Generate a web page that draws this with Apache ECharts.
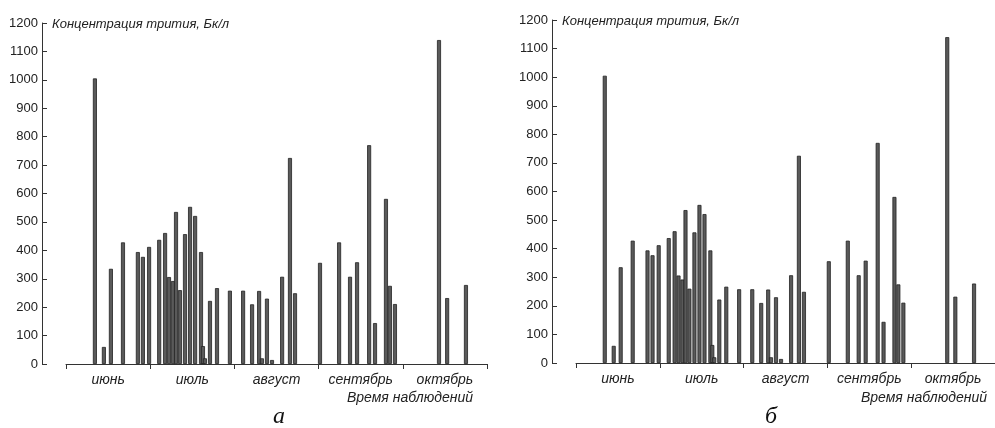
<!DOCTYPE html>
<html>
<head>
<meta charset="utf-8">
<script src="https://cdn.jsdelivr.net/npm/echarts@6/dist/echarts.min.js"></script>
<style>
  html, body { margin: 0; padding: 0; background: #fff; }
  #chart { width: 995px; height: 428px; }
</style>
</head>
<body>
<div id="chart"></div>
<script>
// дни наблюдений от 1 июня (по 30 дней на месяц) и концентрация трития, Бк/л
const obsDays = [10.3, 13.5, 16.0, 20.3, 25.6, 27.4, 29.6,
  33.2, 35.3, 36.7, 38.1, 39.2, 40.6, 42.4, 44.2, 46.0, 48.1, 48.8, 49.5, 51.3, 53.8, 58.4,
  63.1, 66.3, 68.8, 69.8, 71.6, 73.4, 77.0, 79.8, 81.6,
  90.5, 97.3, 101.2, 103.7, 108.0, 110.1, 114.0, 115.4, 117.2,
  132.9, 135.8, 142.5];
const tritium = [1005, 60, 335, 428, 394, 377, 412,
  437, 461, 306, 292, 535, 260, 457, 553, 521, 394, 63, 20, 222, 267, 258,
  258, 210, 257, 20, 230, 14, 307, 725, 249,
  356, 428, 307, 358, 770, 144, 581, 275, 211,
  1140, 232, 278];
const months = ['июнь', 'июль', 'август', 'сентябрь', 'октябрь'];
const yTicks = { min: 0, max: 1200, step: 100 };

const chart = echarts.init(document.getElementById('chart'));
const font = 'Liberation Sans, Arial, sans-serif';

// две панели: а и б
const panels = [
  { left: 66, top: 23, height: 341, width: 421, letter: 'а', letterX: 278, nameRight: 473 },
  { left: 576, top: 20, height: 343, width: 425, letter: 'б', letterX: 770, nameRight: 987 }
];

const pairs = obsDays.map((d, i) => [d, tritium[i]]);

let grid = [], xAxis = [], yAxis = [], series = [], title = [];
panels.forEach((p, i) => {
  grid.push({ left: p.left, top: p.top, width: p.width, height: p.height });
  // подписи месяцев
  xAxis.push({
    gridIndex: i, type: 'category', data: months, boundaryGap: true,
    axisLine: { onZero: false, lineStyle: { color: '#333', width: 1 } },
    axisTick: { show: true, length: 5, alignWithLabel: false, lineStyle: { color: '#333' } },
    axisLabel: { interval: 0, color: '#222', fontSize: 14, fontStyle: 'italic', fontFamily: font, margin: 9 }
  });
  // ось дней для столбиков
  xAxis.push({
    gridIndex: i, type: 'value', min: 0, max: 150, show: false
  });
  yAxis.push({
    gridIndex: i, type: 'value', min: yTicks.min, max: yTicks.max, interval: yTicks.step,
    offset: 24,
    axisLine: { show: true, onZero: false, lineStyle: { color: '#333', width: 1 } },
    axisTick: { show: true, inside: true, length: 5, lineStyle: { color: '#333' } },
    axisLabel: { color: '#222', fontSize: 13, fontFamily: font, margin: 4, formatter: v => String(v) },
    splitLine: { show: false }
  });
  series.push({
    type: 'bar', xAxisIndex: i * 2 + 1, yAxisIndex: i, data: pairs,
    barWidth: 4, barGap: '-100%',
    itemStyle: { color: '#5a5a5a', borderColor: '#222', borderWidth: 0.8 },
    silent: true
  });
  title.push({
    text: 'Концентрация трития, Бк/л', left: p.left - 19, top: p.top - 10,
    textStyle: { fontSize: 13, fontStyle: 'italic', fontWeight: 'normal', color: '#222', fontFamily: font }
  });
  title.push({
    text: 'Время наблюдений', right: 995 - p.nameRight - 5, top: 386,
    textStyle: { fontSize: 14, fontStyle: 'italic', fontWeight: 'normal', color: '#222', fontFamily: font }
  });
  title.push({
    text: p.letter, left: p.letterX - 10, top: 400,
    textStyle: { fontSize: 24, fontStyle: 'italic', fontWeight: 'normal', color: '#111', fontFamily: 'Liberation Serif, DejaVu Serif, serif' }
  });
});

chart.setOption({
  animation: false,
  backgroundColor: '#fff',
  title: title,
  grid: grid,
  xAxis: xAxis,
  yAxis: yAxis,
  series: series
});
</script>
</body>
</html>
